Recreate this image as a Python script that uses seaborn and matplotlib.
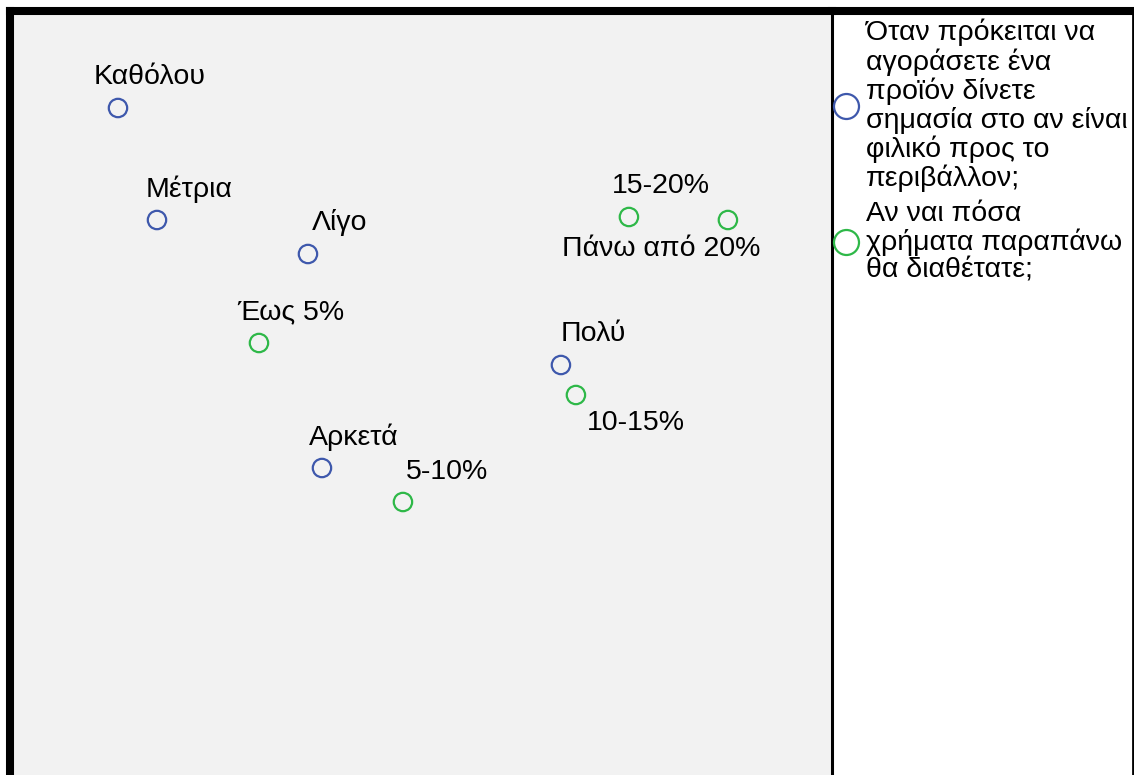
import matplotlib
matplotlib.use("Agg")
import matplotlib.pyplot as plt
from matplotlib.lines import Line2D
import pandas as pd
import seaborn as sns

# Category points (dimension 1 / dimension 2)
importance_labels = ["Καθόλου", "Μέτρια", "Λίγο", "Πολύ", "Αρκετά"]
importance_dim1 = [-1.51, -1.315, -0.56, 0.705, -0.49]
importance_dim2 = [1.71, 1.15, 0.98, 0.425, -0.09]

extra_labels = ["Έως 5%", "15-20%", "Πάνω από 20%", "10-15%", "5-10%"]
extra_dim1 = [-0.805, 1.045, 1.54, 0.78, -0.085]
extra_dim2 = [0.535, 1.165, 1.15, 0.275, -0.26]

series_names = [
    "Όταν πρόκειται να\nαγοράσετε ένα\nπροϊόν δίνετε\nσημασία στο αν είναι\nφιλικό προς το\nπεριβάλλον;",
    "Αν ναι πόσα\nχρήματα παραπάνω\nθα διαθέτατε;",
]
colors = ["#3E58AC", "#2EB848"]

df = pd.DataFrame({
    "dim1": importance_dim1 + extra_dim1,
    "dim2": importance_dim2 + extra_dim2,
    "label": importance_labels + extra_labels,
    "variable": [series_names[0]] * 5 + [series_names[1]] * 5,
})

# label offsets in pixels (dx, dy) from each point
label_offsets = {
    "Πάνω από 20%": (-67, -29),
    "10-15%": (60, -28),
    "5-10%": (44, 30),
}
default_offset = (32, 31)

plt.rcParams["font.family"] = ["Liberation Sans", "DejaVu Sans"]

W, H = 1134, 775
fig = plt.figure(figsize=(W / 100, H / 100), dpi=100)
lax = fig.add_axes([831.7 / W, 0, (1132.5 - 831.7) / W, (H - 11) / H])
ax = fig.add_axes([10 / W, 0, (831.7 - 10) / W, (H - 11) / H])

sns.scatterplot(data=df, x="dim1", y="dim2", hue="variable", palette=colors,
                s=175, linewidth=1.6, legend=False, ax=ax)
coll = ax.collections[0]
fc = coll.get_facecolors()
coll.set_edgecolors(fc)
coll.set_facecolors("none")

for _, row in df.iterrows():
    dx, dy = label_offsets.get(row["label"], default_offset)
    ax.annotate(row["label"], (row["dim1"], row["dim2"]), xytext=(dx, dy),
                textcoords="offset pixels", ha="center", va="center",
                fontsize=20.5, color="black")

ax.set_xlim(-2.05, 2.059)
ax.set_ylim(-1.625, 2.195)
ax.set_facecolor("#f2f2f2")
ax.set_xticks([])
ax.set_yticks([])
ax.set_xlabel("")
ax.set_ylabel("")
ax.spines["left"].set_linewidth(5.8)
ax.spines["top"].set_linewidth(5.8)
ax.spines["right"].set_linewidth(2.2)
ax.spines["bottom"].set_visible(False)

lax.set_facecolor("white")
lax.set_xticks([])
lax.set_yticks([])
lax.spines["left"].set_visible(False)
lax.spines["bottom"].set_visible(False)
lax.spines["top"].set_linewidth(5.8)
lax.spines["right"].set_linewidth(2.0)

handles = [Line2D([], [], linestyle="none", marker="o", markersize=18,
                  markerfacecolor="none", markeredgecolor=c, markeredgewidth=1.6)
           for c in colors]
leg = fig.legend(handles, series_names, loc="upper left",
                 bbox_to_anchor=(832 / W, 1 - 19 / H), frameon=False,
                 fontsize=20.5, borderpad=0, borderaxespad=0, handlelength=0.95,
                 handletextpad=0.25, labelspacing=0.3)
for t in leg.get_texts():
    t.set_linespacing(1.08)

fig.savefig("out.png", dpi=100)
